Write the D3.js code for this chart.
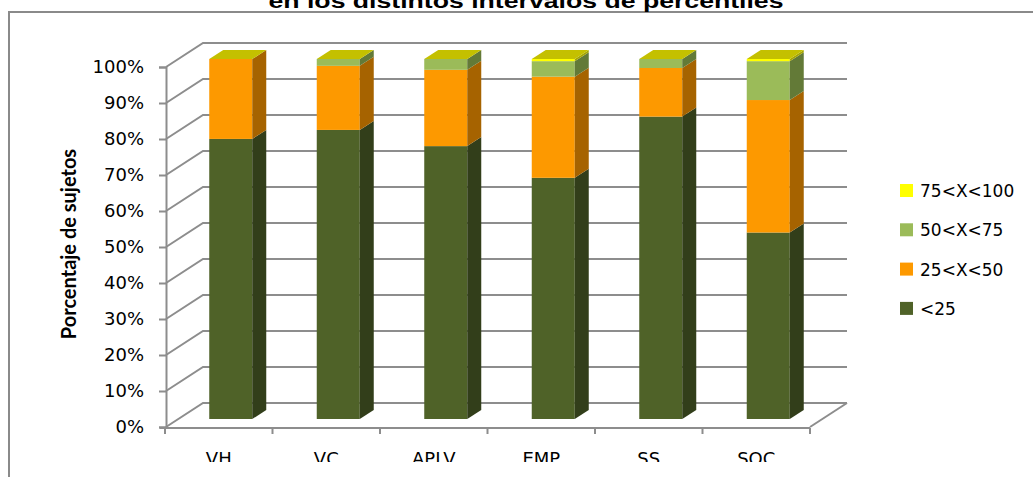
<!DOCTYPE html>
<html>
<head>
<meta charset="utf-8">
<script src="https://cdn.jsdelivr.net/npm/d3@7"></script>
<style>
	html, body { margin: 0; padding: 0; background: #fff; }
	svg { display: block; }
</style>
</head>
<body>
<div id="chart"></div>
<script>
// datos
var categorias = ["VH", "VC", "APLV", "EMP", "SS", "SOC"];
var series = ["<25", "25<X<50", "50<X<75", "75<X<100"];
var menor25 = [77.8, 80.3, 75.8, 67.0, 84.0, 51.8];
var de25a50 = [22.2, 17.8, 21.2, 28.1, 13.5, 36.8];
var de50a75 = [0.0, 1.9, 3.0, 4.3, 2.5, 10.8];
var de75a100 = [0.0, 0.0, 0.0, 0.6, 0.0, 0.6];
var ticksY = [0, 10, 20, 30, 40, 50, 60, 70, 80, 90, 100];
var leyenda = ["75<X<100", "50<X<75", "25<X<50", "<25"];

var colFrente = ["#4f6228", "#fd9900", "#9bbb59", "#ffff00"];
var colLado = ["#323e1a", "#a66300", "#637a37", "#a6a600"];
var colTapa = "#c4c000";

var W = 1033, H = 477;

var svg = d3.select("#chart").append("svg")
	.attr("width", W)
	.attr("height", H);

// marco exterior
svg.append("path")
	.attr("d", "M9,477 L9,12 L1033,12")
	.attr("fill", "none")
	.attr("stroke", "#8a8a8a")
	.attr("stroke-width", 2);

// titulo (cortado arriba, como en el original)
svg.append("text")
	.attr("x", 526)
	.attr("y", 8)
	.attr("text-anchor", "middle")
	.attr("textLength", 515)
	.attr("lengthAdjust", "spacingAndGlyphs")
	.style("font-family", "Liberation Sans, Arial, sans-serif")
	.style("font-weight", "bold")
	.style("font-size", "21px")
	.text("en los distintos intervalos de percentiles");

var x = d3.scaleBand()
	.domain(categorias)
	.range([165, 810])
	.paddingInner(0.6)
	.paddingOuter(0.3);

var y = d3.scaleLinear()
	.domain([0, 100])
	.range([427, 67]);

// profundidad
var fondo = {x: 37, y: -24};
var plano = {x: 12, y: -8};
var grosor = {x: 14, y: -9};

var gris = "#8d8d8d";

// paredes: lineas de la pared del fondo y lateral
var grid = svg.append("g");
ticksY.forEach(function(t) {
	var yf = y(t);
	grid.append("path")
		.attr("d", "M166," + yf + " L" + (166 + fondo.x) + "," + (yf + fondo.y) +
			" L" + (810 + fondo.x) + "," + (yf + fondo.y))
		.attr("fill", "none")
		.attr("stroke", gris)
		.attr("stroke-width", 2);
});

// suelo
grid.append("path")
	.attr("d", "M810," + y(0) + " L" + (810 + fondo.x) + "," + (y(0) + fondo.y))
	.attr("fill", "none")
	.attr("stroke", gris)
	.attr("stroke-width", 2);

// barras apiladas
var valores = [menor25, de25a50, de50a75, de75a100];
var barras = svg.append("g");

categorias.forEach(function(c, i) {
	var x0 = x(c) + plano.x;
	var x1 = x0 + x.bandwidth();
	var acum = 0;
	valores.forEach(function(serie, s) {
		var v0 = acum, v1 = acum + serie[i];
		acum = v1;
		if (serie[i] <= 0) {
			return;
		}
		var ya = y(v1) + plano.y;
		var yb = y(v0) + plano.y;
		barras.append("rect")
			.attr("x", x0)
			.attr("y", ya)
			.attr("width", x1 - x0)
			.attr("height", yb - ya)
			.attr("fill", colFrente[s]);
		barras.append("path")
			.attr("d", "M" + x1 + "," + ya + " L" + (x1 + grosor.x) + "," + (ya + grosor.y) +
				" L" + (x1 + grosor.x) + "," + (yb + grosor.y) + " L" + x1 + "," + yb + "Z")
			.attr("fill", colLado[s]);
	});
	var yt = y(acum) + plano.y;
	barras.append("path")
		.attr("d", "M" + x0 + "," + yt + " L" + x1 + "," + yt +
			" L" + (x1 + grosor.x) + "," + (yt + grosor.y) + " L" + (x0 + grosor.x) + "," + (yt + grosor.y) + "Z")
		.attr("fill", colTapa);
});

// eje y
var ejeY = svg.append("g")
	.attr("transform", "translate(166,0)")
	.call(d3.axisLeft(y).tickValues(ticksY).tickSize(7).tickFormat(function(d) { return d + "%"; }));
ejeY.select(".domain").attr("stroke", gris).attr("stroke-width", 2);
ejeY.selectAll(".tick line").attr("stroke", gris).attr("stroke-width", 2);
ejeY.selectAll(".tick text")
	.attr("x", -22)
	.attr("fill", "#000")
	.style("font-family", "DejaVu Sans, Verdana, sans-serif")
	.style("font-size", "18px");

// eje x
svg.append("defs").append("clipPath")
	.attr("id", "corte")
	.append("rect")
	.attr("x", 0).attr("y", 0).attr("width", W).attr("height", 462);

var ejeX = svg.append("g")
	.attr("clip-path", "url(#corte)")
	.append("g")
	.attr("transform", "translate(0,428)")
	.call(d3.axisBottom(x).tickSize(0).tickPadding(0));
ejeX.select(".domain")
	.attr("d", "M160,0 L810,0")
	.attr("stroke", gris)
	.attr("stroke-width", 2);
ejeX.selectAll(".tick text")
	.attr("y", 37)
	.attr("dy", 0)
	.attr("fill", "#000")
	.style("font-family", "DejaVu Sans, Verdana, sans-serif")
	.style("font-size", "18px");

// marcas entre categorias
var bordes = categorias.map(function(c) { return x(c) - x.step() * 0.3; });
bordes.push(810);
ejeX.selectAll(".sep")
	.data(bordes)
	.enter().append("line")
	.attr("class", "sep")
	.attr("x1", function(d) { return d; })
	.attr("x2", function(d) { return d; })
	.attr("y1", 0)
	.attr("y2", 6)
	.attr("stroke", gris)
	.attr("stroke-width", 2);

// titulo eje y
svg.append("text")
	.attr("transform", "translate(76,244) rotate(-90)")
	.attr("text-anchor", "middle")
	.style("font-family", "Lato, sans-serif")
	.style("font-weight", "bold")
	.style("font-size", "20px")
	.text("Porcentaje de sujetos");

// leyenda
var colLeyenda = [colFrente[3], colFrente[2], colFrente[1], colFrente[0]];
var ley = svg.append("g")
	.attr("transform", "translate(900,190)");
leyenda.forEach(function(t, i) {
	var g = ley.append("g").attr("transform", "translate(0," + (i * 39.3) + ")");
	g.append("rect")
		.attr("x", 0)
		.attr("y", -6)
		.attr("width", 13)
		.attr("height", 13)
		.attr("fill", colLeyenda[i]);
	g.append("text")
		.attr("x", 20)
		.attr("y", 7)
		.style("font-family", "DejaVu Sans, Verdana, sans-serif")
		.style("font-size", "17px")
		.text(t);
});
</script>
</body>
</html>
